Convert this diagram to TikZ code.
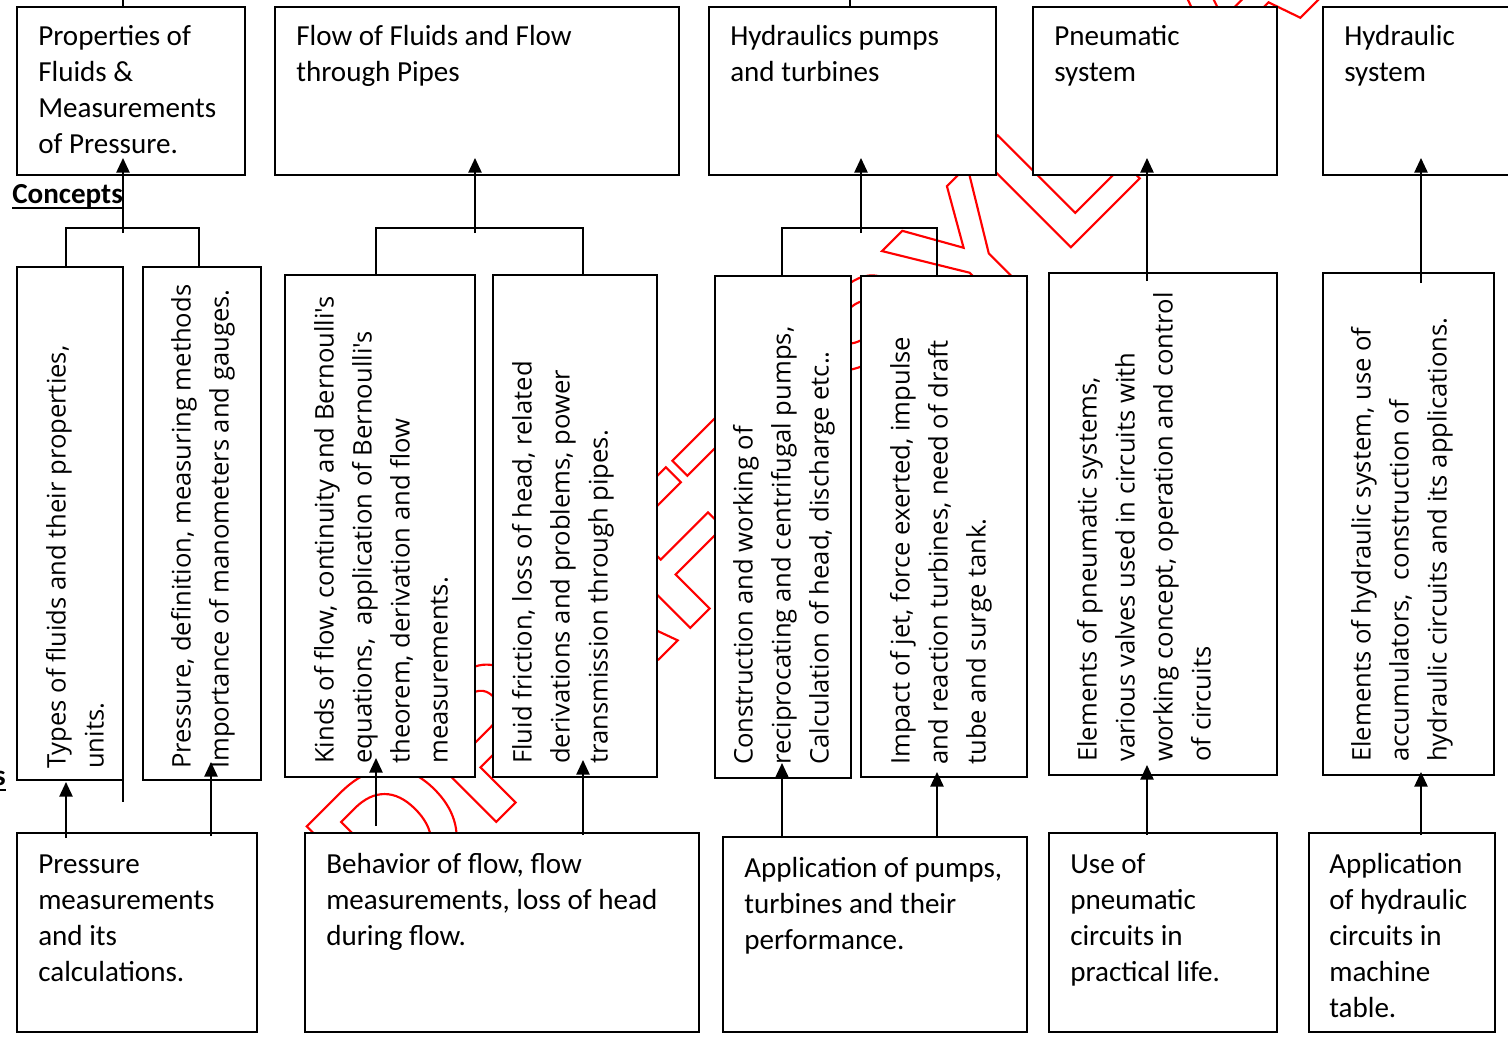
\documentclass[tikz,border=0pt]{standalone}
\usepackage{fontspec}
\setmainfont{Carlito}
\newfontfamily\rotfont{Open Sans}
\newfontfamily\wmfont{Liberation Sans}
\usetikzlibrary{arrows.meta,calc}

\tikzset{
  box/.style={draw=black, line width=1.5pt, fill=white, inner sep=0pt, outer sep=0pt, rectangle},
  conn/.style={line width=1.2pt},
  arr/.style={conn, -{Triangle[length=11pt,width=10pt]}},
  htext/.style={anchor=base west, inner sep=0pt},
  vtext/.style={anchor=base west, inner sep=0pt, rotate=90},
  wm/.style={anchor=base west, inner sep=0pt, rotate=45, text=red},
  heading/.style={inner sep=0pt},
}
% box from (x1,y1) to (x2,y2), pixel coordinates with y pointing down
\newcommand{\pbox}[5]{\node[box, anchor=north west,
  minimum width={(#4-#2)*0.75pt}, minimum height={(#5-#3)*0.75pt}] (#1) at (#2,#3) {};}
\newcommand{\hlines}[1]{\parbox[t]{12cm}{\fontsize{21.8pt}{27pt}\selectfont #1}}
\newcommand{\vlines}[1]{\parbox[t]{16cm}{\rotfont\fontsize{19.2pt}{28.5pt}\selectfont #1}}

\begin{document}
\begin{tikzpicture}[x=0.75pt,y=-0.75pt]
\useasboundingbox (0,0) rectangle (1508,1036);

% outlined watermark behind the boxes
\node[wm] (wmark) at (390,928) {\wmfont\bfseries\fontsize{142.5pt}{150pt}\selectfont
  \special{pdf:literal direct 1 0 0 RG 1.6 w 1 Tr}DRAFT SYLLABUS\special{pdf:literal direct 0 Tr}};

% top row: topics
\pbox{A}{17}{7}{245}{175}
\pbox{B}{275}{7}{679}{175}
\pbox{C}{709}{7}{996}{175}
\pbox{D}{1033}{7}{1277}{175}
\pbox{E}{1323}{7}{1520}{175}

% middle row: concepts (rotated text)
\pbox{M1}{17}{267}{123}{780}
\pbox{M2}{143}{267}{261}{780}
\pbox{M3}{285}{275}{475}{777}
\pbox{M4}{493}{275}{657}{777}
\pbox{M5}{715}{276}{851}{778}
\pbox{M6}{861}{276}{1027}{777}
\pbox{M7}{1049}{273}{1277}{775}
\pbox{M8}{1323}{273}{1494}{775}

% bottom row: outcomes
\pbox{L1}{17}{833}{257}{1032}
\pbox{L2}{305}{833}{699}{1032}
\pbox{L3}{723}{837}{1027}{1032}
\pbox{L4}{1049}{833}{1277}{1032}
\pbox{L5}{1309}{833}{1495}{1032}

\draw[line width=1.5pt] (M1.south east) -- ++(0,22);

% headings
\node[heading, anchor=base west] (conc) at (12,203) {\bfseries\fontsize{21.8pt}{27pt}\selectfont Concepts};
\draw[line width=1.5pt] ($(conc.base west)+(0,4.5)$) -- ($(conc.base east)+(0,4.5)$);
\node[heading, anchor=base east] (outc) at (6,785) {\bfseries\fontsize{21.8pt}{27pt}\selectfont Outcomes};
\draw[line width=1.5pt] ($(outc.base west)+(0,5)$) -- ($(outc.base east)+(0,5)$);

% texts of the top row
\node[htext] (txA) at (38,45) {\hlines{Properties of\\Fluids \&\\Measurements\\of Pressure.}};
\node[htext] (txB) at (296,45) {\hlines{Flow of Fluids and Flow\\through Pipes}};
\node[htext] (txC) at (730,45) {\hlines{Hydraulics pumps\\and turbines}};
\node[htext] (txD) at (1054,45) {\hlines{Pneumatic\\system}};
\node[htext] (txE) at (1344,45) {\hlines{Hydraulic\\system}};

% texts of the middle row
\node[vtext] (vx1) at (65.5,769) {\vlines{Types of fluids and their properties,\\units.}};
\node[vtext] (vx2) at (190.5,769) {\vlines{Pressure, definition, measuring methods\\Importance of manometers and gauges.}};
\node[vtext] (vx3) at (333.5,764) {\vlines{Kinds of flow, continuity and Bernoulli's\\equations,\ \ application of Bernoulli's\\theorem, derivation and flow\\measurements.}};
\node[vtext] (vx4) at (531.5,764) {\vlines{Fluid friction, loss of head, related\\derivations and problems, power\\transmission through pipes.}};
\node[vtext] (vx5) at (752.5,765) {\vlines{Construction and working of\\reciprocating and centrifugal pumps,\\Calculation of head, discharge etc..}};
\node[vtext] (vx6) at (909.5,765) {\vlines{Impact of jet, force exerted, impulse\\and reaction turbines, need of draft\\tube and surge tank.}};
\node[vtext] (vx7) at (1096.5,762) {\vlines{Elements of pneumatic systems,\\various valves used in circuits with\\working concept, operation and control\\of circuits}};
\node[vtext] (vx8) at (1370.5,762) {\vlines{Elements of hydraulic system, use of\\accumulators,\ \ construction of\\hydraulic circuits and its applications.}};

% texts of the bottom row
\node[htext] (tx1) at (38,873) {\hlines{Pressure\\measurements\\and its\\calculations.}};
\node[htext] (tx2) at (326,873) {\hlines{Behavior of flow, flow\\measurements, loss of head\\during flow.}};
\node[htext] (tx3) at (744,877) {\hlines{Application of pumps,\\turbines and their\\performance.}};
\node[htext] (tx4) at (1070,873) {\hlines{Use of\\pneumatic\\circuits in\\practical life.}};
\node[htext] (tx5) at (1329,873) {\hlines{Application\\of hydraulic\\circuits in\\machine\\table.}};

% stubs leaving the top of the sheet
\coordinate (sA) at (123,-5);
\coordinate (sC) at (850,-5);
\draw[conn] (sA) -- (sA |- A.north);
\draw[conn] (sC) -- (sC |- C.north);

% brackets joining the concept boxes
\coordinate (kA1) at (66,228);  \coordinate (kA2) at (199,228);
\coordinate (kB1) at (376,228); \coordinate (kB2) at (583,228);
\coordinate (kC1) at (782,228); \coordinate (kC2) at (937,228);
\draw[conn] (kA1 |- M1.north) -- (kA1) -- (kA2) -- (kA2 |- M2.north);
\draw[conn] (kB1 |- M3.north) -- (kB1) -- (kB2) -- (kB2 |- M4.north);
\draw[conn] (kC1 |- M5.north) -- (kC1) -- (kC2) -- (kC2 |- M6.north);

% arrows up into the topics
\coordinate (tA) at (123,158);
\coordinate (tB) at (475,158);
\coordinate (tC) at (861,158);
\coordinate (tD) at (1147,158);
\coordinate (tE) at (1421,158);
\draw[arr] ($(tA |- kA1)+(0,5)$) -- (tA);
\draw[arr] ($(tB |- kB1)+(0,5)$) -- (tB);
\draw[arr] ($(tC |- kC1)+(0,5)$) -- (tC);
\draw[arr] ($(tD |- M7.north)+(0,8)$) -- (tD);
\draw[arr] ($(tE |- M8.north)+(0,10)$) -- (tE);

% arrows up from the outcomes into the concepts
\coordinate (b1) at (66,782);
\coordinate (b2) at (211,762);
\coordinate (b3) at (376,758);
\coordinate (b4) at (583,760);
\coordinate (b5) at (782,763);
\coordinate (b6) at (937,772);
\coordinate (b7) at (1147,765);
\coordinate (b8) at (1421,772);
\draw[arr] ($(b1 |- L1.north)+(0,5)$) -- (b1);
\draw[arr] ($(b2 |- L1.north)+(0,3)$) -- (b2);
\draw[arr] ($(b3 |- L2.north)+(0,-7)$) -- (b3);
\draw[arr] ($(b4 |- L2.north)+(0,2)$) -- (b4);
\draw[arr] ($(b5 |- L3.north)+(0,1)$) -- (b5);
\draw[arr] ($(b6 |- L3.north)+(0,1)$) -- (b6);
\draw[arr] ($(b7 |- L4.north)+(0,2)$) -- (b7);
\draw[arr] ($(b8 |- L5.north)+(0,2)$) -- (b8);
\end{tikzpicture}
\end{document}
